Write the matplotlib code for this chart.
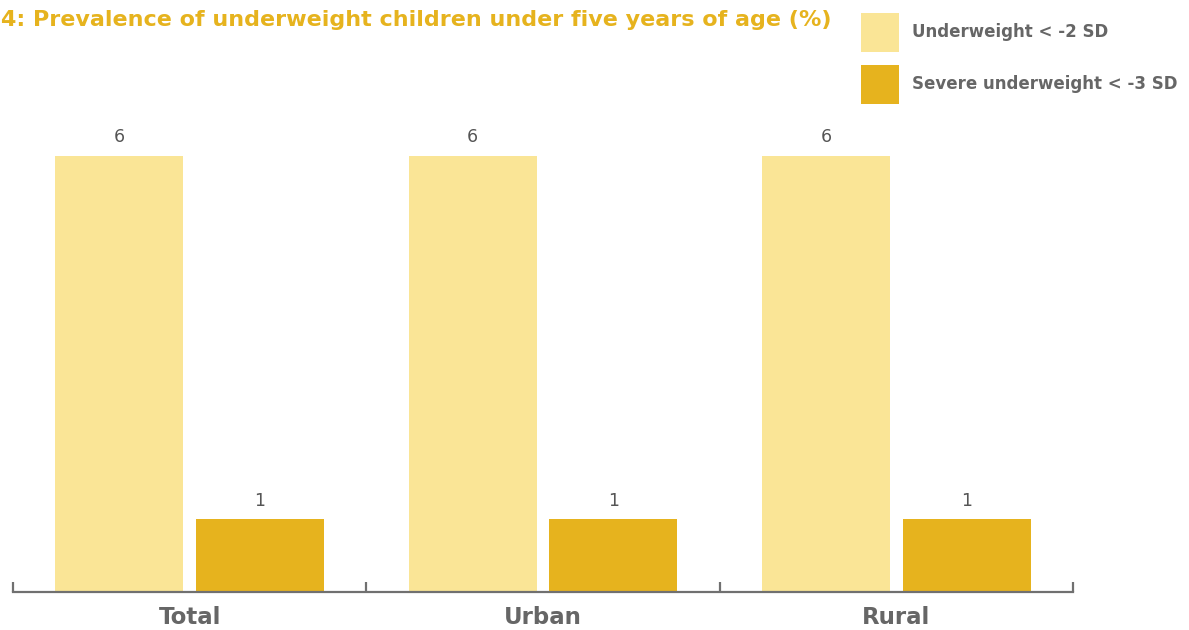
import numpy as np
import matplotlib
matplotlib.use("Agg")
import matplotlib.pyplot as plt
from matplotlib.patches import Patch

plt.rcParams["font.family"] = ["DejaVu Sans"]

categories = ["Total", "Urban", "Rural"]
underweight = [6, 6, 6]
severe = [1, 1, 1]
series_labels = ["Underweight < -2 SD", "Severe underweight < -3 SD"]
title = "4: Prevalence of underweight children under five years of age (%)"

LIGHT = "#FAE596"
DARK = "#E6B31E"
GREY = "#666666"

W, H = 1189, 630
fig = plt.figure(figsize=(W / 100, H / 100), dpi=100)
ax = fig.add_axes([13 / W, (H - 592) / H, (1073 - 13) / W, (592 - 83) / H])

x = np.arange(len(categories))
bw = 0.363
off = 0.199
b1 = ax.bar(x - off, underweight, bw, color=LIGHT)
b2 = ax.bar(x + off, severe, bw, color=DARK)
for b in (b1, b2):
    ax.bar_label(b, padding=7, fontsize=12.5, color="#555555")

ax.set_xlim(-0.5, len(categories) - 0.5)
ax.set_ylim(0, 7)
ax.set_yticks([])
for s in ("top", "right", "left"):
    ax.spines[s].set_visible(False)
ax.spines["bottom"].set_color("#707070")
ax.spines["bottom"].set_linewidth(1.6)
ax.set_xticks(x)
ax.set_xticklabels(categories, fontsize=16.5, fontweight="bold", color=GREY)
ax.tick_params(axis="x", which="major", length=0, pad=10)
ax.set_xticks(np.arange(len(categories) + 1) - 0.5, minor=True)
ax.tick_params(axis="x", which="minor", direction="in", length=7,
               width=1.6, color="#707070")

fig.text(1 / W, 1 - 20 / H, title, fontsize=16, fontweight="bold",
         color=DARK, ha="left", va="center")

fs = 12
handles = [Patch(facecolor=LIGHT), Patch(facecolor=DARK)]
fig.legend(handles, series_labels, loc="upper left",
           bbox_to_anchor=(861 / W, 1 - 13 / H), frameon=False,
           borderpad=0, borderaxespad=0,
           handlelength=38 / (fs * 100 / 72), handleheight=3.23,
           labelspacing=0.78, handletextpad=0.8, labelcolor=GREY,
           prop={"size": fs, "weight": "bold"})

fig.savefig("out.png", dpi=100)
